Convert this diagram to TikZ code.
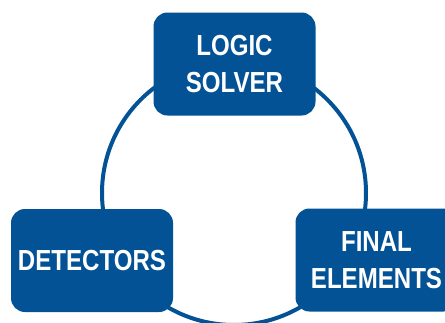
\documentclass[tikz,border=0pt]{standalone}
\usepackage{fontspec}
\newfontfamily\boxfont{Liberation Sans}[FakeStretch=0.83]
\definecolor{sisblue}{RGB}{4,82,150}
\begin{document}
\begin{tikzpicture}[x=1pt,y=-1pt,
  sisbox/.style={fill=sisblue, rounded corners=14pt, text=white,
    minimum width=162pt, minimum height=103pt, inner sep=0pt, align=center,
    font=\boxfont\bfseries\fontsize{29}{37}\selectfont},
  ring/.style={draw=sisblue, line width=4pt}]
\useasboundingbox (0,0) rectangle (445,322);
\clip (0,0) rectangle (445,322);
\coordinate (c) at (234,193);
\draw[ring] (c) circle[radius=132];
\node[sisbox] (logic) at (234.5,64) {LOGIC\\SOLVER};
\node[sisbox] (det) at (92,260.5) {DETECTORS};
\node[sisbox] (final) at (376.5,260) {FINAL\\ELEMENTS};
\end{tikzpicture}
\end{document}
